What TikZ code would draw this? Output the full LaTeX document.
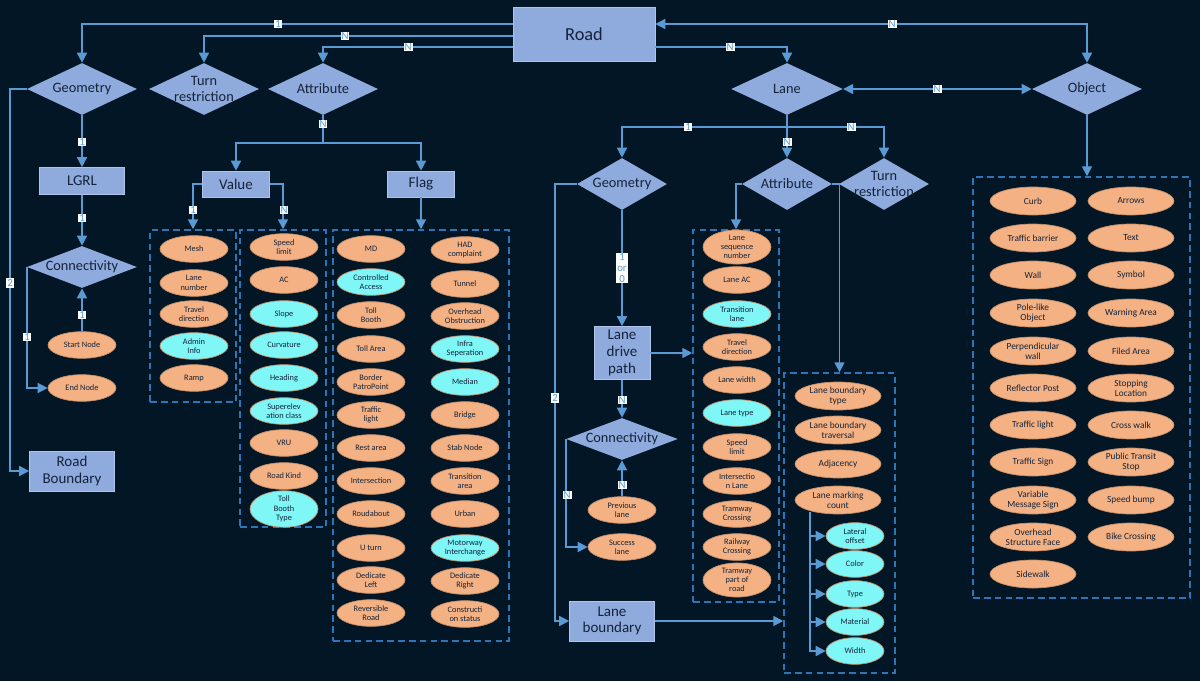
\documentclass[tikz,border=0pt]{standalone}
\usepackage{fontspec}
\setmainfont{Carlito}
\usetikzlibrary{shapes.geometric,arrows.meta}
\definecolor{bg}{HTML}{031626}
\definecolor{boxc}{HTML}{8FAADC}
\definecolor{ln}{HTML}{5B9BD5}
\definecolor{orc}{HTML}{F4B183}
\definecolor{cyc}{HTML}{7FF7F7}
\definecolor{dsh}{HTML}{2E75B6}
\definecolor{txt}{HTML}{14233A}
\tikzset{
  line/.style={ln,line width=1pt},
  arr/.style={line,-{Triangle[length=6pt,width=6pt]}},
  arr2/.style={line,{Triangle[length=6pt,width=6pt]}-{Triangle[length=6pt,width=6pt]}},
  box/.style={draw=boxc!70!white,fill=boxc,inner sep=0,align=center,text=txt,font=\fontsize{9}{10}\selectfont},
  dia/.style={diamond,fill=boxc,inner sep=0,text=txt,label={[font=\fontsize{8.6}{9.5}\selectfont,text=txt,align=center]center:#1}},
  ell/.style={ellipse,fill=orc,draw=orc!80!black,inner sep=0,minimum width=40.8pt,minimum height=16pt,align=center,text=txt,font=\fontsize{5}{5.6}\selectfont},
  ellb/.style={ell,minimum width=51.6pt,minimum height=16.8pt,font=\fontsize{5.6}{6.2}\selectfont},
  dbox/.style={draw=dsh,dashed,dash pattern=on 4pt off 2.5pt,line width=0.9pt,inner sep=0},
  lab/.style={fill=white,text=ln,inner sep=0.6pt,font=\fontsize{6.5}{6.5}\selectfont,align=center},
}
\begin{document}
\begin{tikzpicture}[x=0.6pt,y=-0.6pt]
\useasboundingbox (0,0) rectangle (1200,681);
\fill[bg] (0,0) rectangle (1200,681);
% main nodes
\node[box,minimum width=85.2pt,minimum height=32.4pt,font=\fontsize{11}{12}\selectfont] (road) at (584,34) {Road};
\node[dia=Geometry,minimum width=66pt,minimum height=31.2pt] (geo) at (82,89) {};
\node[dia={Turn\\restriction},minimum width=66pt,minimum height=31.2pt] (tr) at (204,89) {};
\node[dia=Attribute,minimum width=66pt,minimum height=31.2pt] (att) at (323,89) {};
\node[dia=Lane,minimum width=67pt,minimum height=31.2pt] (lane) at (787,89) {};
\node[dia=Object,minimum width=66pt,minimum height=31.2pt] (obj) at (1087,89) {};
\node[box,minimum width=51pt,minimum height=16.2pt] (lgrl) at (82,181) {LGRL};
\node[dia=Connectivity,minimum width=66pt,minimum height=25.2pt] (con) at (82,267) {};
\node[ell] (sn) at (82,345) {Start Node};
\node[ell] (en) at (82,388) {End Node};
\node[box,minimum width=51pt,minimum height=24pt] (rb) at (72,471) {Road\\Boundary};
\node[box,minimum width=40.2pt,minimum height=15.6pt] (val) at (236,184) {Value};
\node[box,minimum width=40.2pt,minimum height=15.6pt] (flag) at (421,184) {Flag};
% dashed boxes
\node[dbox,minimum width=51.6pt,minimum height=103.2pt] (b1) at (193,316) {};
\node[dbox,minimum width=51.6pt,minimum height=178.2pt] (b2) at (283,378.5) {};
\node[dbox,minimum width=105.6pt,minimum height=246.6pt] (b3) at (421,435.5) {};
\node[dbox,minimum width=51.6pt,minimum height=223.2pt] (b4) at (736,416) {};
\node[dbox,minimum width=66.6pt,minimum height=180pt] (b5) at (839.5,523) {};
\node[dbox,minimum width=130.2pt,minimum height=252.6pt] (b6) at (1081.5,387.5) {};
% lists
\foreach \y/\t/\c [count=\i] in {249/Mesh/orc,283/{Lane\\number}/orc,314/{Travel\\direction}/orc,346/{Admin\\Info}/cyc,378/Ramp/orc}
  \node[ell,fill=\c] (v\i) at (194,\y) {\t};
\foreach \y/\t/\c [count=\i] in {247/{Speed\\limit}/orc,280/AC/orc,314/Slope/cyc,345/Curvature/cyc,378/Heading/cyc,411/{Superelev\\ation class}/cyc,443/VRU/orc,476/Road Kind/orc,509/{Toll\\Booth\\Type}/cyc}
  \node[ell,fill=\c] (w\i) at (284,\y) {\t};
\foreach \y/\t/\c [count=\i] in {249/MD/orc,282/{Controlled\\Access}/cyc,315/{Toll\\Booth}/orc,349/Toll Area/orc,382/{Border\\PatroPoint}/orc,415/{Traffic\\light}/orc,448/Rest area/orc,481/Intersection/orc,514/Roudabout/orc,548/U turn/orc,580/{Dedicate\\Left}/orc,613/{Reversible\\Road}/orc}
  \node[ell,fill=\c] (f\i) at (371,\y) {\t};
\foreach \y/\t/\c [count=\i] in {250/{HAD\\complaint}/orc,284/Tunnel/orc,316/{Overhead\\Obstruction}/orc,349/{Infra\\Seperation}/cyc,382/Median/cyc,415/Bridge/orc,448/Stab Node/orc,481/{Transition\\area}/orc,514/Urban/orc,548/{Motorway\\Interchange}/cyc,581/{Dedicate\\Right}/orc,614/{Constructi\\on status}/orc}
  \node[ell,fill=\c] (g\i) at (465,\y) {\t};
% right part
\node[dia=Geometry,minimum width=54pt,minimum height=31.2pt] (geo2) at (622,184) {};
\node[dia=Attribute,minimum width=54pt,minimum height=31.2pt] (att2) at (787,184) {};
\node[dia={Turn\\restriction},minimum width=54pt,minimum height=31.2pt] (tr2) at (884,184) {};
\node[box,minimum width=33.6pt,minimum height=31.8pt] (ldp) at (622,353) {Lane\\drive\\path};
\node[dia=Connectivity,minimum width=67pt,minimum height=25.2pt] (con2) at (622,439) {};
\node[ell] (prev) at (622,510) {Previous\\lane};
\node[ell] (succ) at (622,547) {Success\\lane};
\node[box,minimum width=51pt,minimum height=24pt] (lb) at (612,621) {Lane\\boundary};
\foreach \y/\t/\c [count=\i] in {247/{Lane\\sequence\\number}/orc,280/Lane AC/orc,314/{Transition\\lane}/cyc,347/{Travel\\direction}/orc,380/Lane width/orc,413/Lane type/cyc,447/{Speed\\limit}/orc,481/{Intersectio\\n Lane}/orc,514/{Tramway\\Crossing}/orc,547/{Railway\\Crossing}/orc,580/{Tramway\\part of\\road}/orc}
  \node[ell,fill=\c] (la\i) at (737,\y) {\t};
\foreach \y/\t [count=\i] in {396/{Lane boundary\\type},430/{Lane boundary\\traversal},464/Adjacency,500/{Lane marking\\count}}
  \node[ellb] (lbt\i) at (838,\y) {\t};
\coordinate (lmcb) at (810,512);
\foreach \y/\t [count=\i] in {536/{Lateral\\offset},564/Color,594/Type,622/Material,651/Width}
  {\node[ell,fill=cyc,minimum width=34.8pt] (s\i) at (855,\y) {\t};
   \draw[arr] (lmcb) |- (s\i.west);}
\foreach \y/\t [count=\i] in {201/Curb,238/Traffic barrier,275/Wall,313/{Pole-like\\Object},351/{Perpendicular\\wall},388/Reflector Post,425/Traffic light,462/Traffic Sign,500/{Variable\\Message Sign},537/{Overhead\\Structure Face},574/Sidewalk}
  \node[ellb] (o\i) at (1033,\y) {\t};
\foreach \y/\t [count=\i] in {201/Arrows,238/Text,275/Symbol,313/Warning Area,351/Filed Area,388/{Stopping\\Location},425/Cross walk,462/{Public Transit\\Stop},500/Speed bump,537/Bike Crossing}
  \node[ellb] (p\i) at (1131,\y) {\t};
% connectors
\draw[arr] (road.west |- 0,24) -| (geo.north);
\draw[arr] (road.west |- 0,36) -| (tr.north);
\draw[arr] (road.west |- 0,47) -| (att.north);
\draw[arr2] (road.east |- 0,24) -| (obj.north);
\draw[arr] (road.east |- 0,47) -| (lane.north);
\draw[arr2] (lane.east) -- (obj.west);
\draw[arr] (geo.south) -- (lgrl.north);
\draw[arr] (lgrl.south) -- (con.north);
\draw[arr] (sn.north) -- (con.south);
\draw[arr] (con.west) |- (en.west);
\coordinate (gl) at (10,89);
\draw[arr] (geo.west) -- (gl) |- (rb.west);
\coordinate (ab) at (323,143);
\draw[line] (att.south) -- (ab);
\draw[arr] (ab) -| (val.north);
\draw[arr] (ab) -| (flag.north);
\draw[arr] (val.west) -| (b1.north);
\draw[arr] (val.east) -| (b2.north);
\draw[arr] (flag.south) -- (b3.north);
\coordinate (lbm) at (787,127);
\draw[line] (lane.south) -- (lbm);
\draw[arr] (lbm) -| (geo2.north);
\draw[arr] (lbm) -| (tr2.north);
\draw[arr] (lbm) -- (att2.north);
\draw[arr] (geo2.south) -- (ldp.north);
\coordinate (gl2) at (555,184);
\draw[arr] (geo2.west) -- (gl2) |- (lb.west);
\draw[arr] (ldp.east) -- (ldp.east -| b4.west);
\draw[arr] (ldp.south) -- (con2.north);
\draw[arr] (prev.north) -- (con2.south);
\draw[arr] (con2.west) |- (succ.west);
\draw[arr] (att2.west) -| (b4.north);
\draw[arr] (att2.east) -| (b5.north);
\draw[arr] (lb.east) -- (lb.east -| b5.west);
\draw[arr] (obj.south) -- (obj.south |- b6.north);
% labels
\node[lab] (l1) at (278,24) {1};
\node[lab] (l2) at (345,36) {N};
\node[lab] (l3) at (408,47) {N};
\node[lab] (l4) at (892,24) {N};
\node[lab] (l5) at (730,47) {N};
\node[lab] (l6) at (937,89) {N};
\node[lab] (l7) at (82,142) {1};
\node[lab] (l8) at (82,218) {1};
\node[lab] (l9) at (82,315) {1};
\node[lab] (l10) at (27,337) {1};
\node[lab] (l11) at (10,283) {2};
\node[lab] (l12) at (323,124) {N};
\node[lab] (l13) at (193,210) {1};
\node[lab] (l14) at (284,210) {N};
\node[lab] (l15) at (688,127) {1};
\node[lab] (l16) at (851,127) {N};
\node[lab] (l17) at (787,142) {N};
\node[lab] (l18) at (622,268) {1\\or\\0};
\node[lab] (l19) at (555,398) {2};
\node[lab] (l20) at (622,400) {N};
\node[lab] (l21) at (622,485) {N};
\node[lab] (l22) at (567,495) {N};
\end{tikzpicture}
\end{document}
